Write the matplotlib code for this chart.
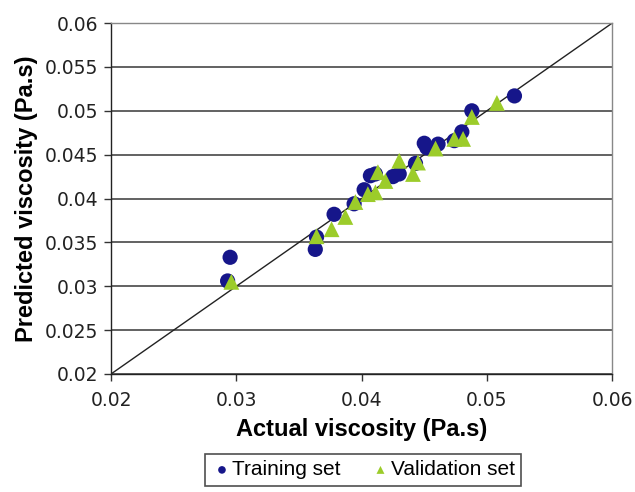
import matplotlib
matplotlib.use("Agg")
import matplotlib.pyplot as plt
from matplotlib.ticker import FixedLocator, FixedFormatter

plt.rcParams['font.family'] = ['Liberation Sans', 'DejaVu Sans']

train_x = [0.0522, 0.0488, 0.0480, 0.0474, 0.0450, 0.0461, 0.0443, 0.0430, 0.0411,
           0.0407, 0.0402, 0.0394, 0.0378, 0.0364, 0.0363, 0.0295, 0.0293, 0.0425, 0.0452]
train_y = [0.0517, 0.0500, 0.0476, 0.0466, 0.0463, 0.0462, 0.0440, 0.0428, 0.0428,
           0.0426, 0.0410, 0.0394, 0.0382, 0.0356, 0.0342, 0.0333, 0.0306, 0.0425, 0.0458]
valid_x = [0.0508, 0.0488, 0.0481, 0.0474, 0.0459, 0.0445, 0.0441, 0.0430, 0.0419,
           0.0413, 0.0411, 0.0405, 0.0395, 0.0387, 0.0376, 0.0364, 0.0296]
valid_y = [0.0509, 0.0493, 0.0468, 0.0468, 0.0457, 0.0441, 0.0428, 0.0443, 0.0420,
           0.0430, 0.0407, 0.0405, 0.0396, 0.0379, 0.0365, 0.0357, 0.0305]

x_ticks = [0.02, 0.03, 0.04, 0.05, 0.06]
x_labels = ["0.02", "0.03", "0.04", "0.05", "0.06"]
y_ticks = [0.02, 0.025, 0.03, 0.035, 0.04, 0.045, 0.05, 0.055, 0.06]
y_labels = ["0.02", "0.025", "0.03", "0.035", "0.04", "0.045", "0.05", "0.055", "0.06"]

fig = plt.figure(figsize=(6.35, 4.92), dpi=100)
ax = fig.add_axes([0.175, 0.240, 0.789, 0.713])

ax.set_xlim(0.02, 0.06)
ax.set_ylim(0.02, 0.06)
ax.yaxis.set_major_locator(FixedLocator(y_ticks))
ax.yaxis.set_major_formatter(FixedFormatter(y_labels))
ax.xaxis.set_major_locator(FixedLocator(x_ticks))
ax.xaxis.set_major_formatter(FixedFormatter(x_labels))
ax.grid(axis='y', color='#555555', linewidth=1.3, zorder=0)
ax.set_axisbelow(True)

ax.plot([0.02, 0.06], [0.02, 0.06], color='#222222', linewidth=1.0, zorder=1)

ax.scatter(train_x, train_y, s=120, marker='o', color='#16168a', zorder=2,
           label='Training set', edgecolors='none')
ax.scatter(valid_x, valid_y, s=130, marker='^', color='#9ccc2a', zorder=3,
           label='Validation set', edgecolors='none')

for side in ['left', 'bottom']:
    ax.spines[side].set_color('#222222')
    ax.spines[side].set_linewidth(1.0)
for side in ['top', 'right']:
    ax.spines[side].set_color('#888888')
    ax.spines[side].set_linewidth(1.0)

ax.tick_params(axis='both', direction='out', length=5, width=1, colors='#333333',
               labelsize=13.5, labelcolor='#222222')
ax.tick_params(axis='x', pad=7)
ax.tick_params(axis='y', pad=4)
for lbl in ax.get_xticklabels() + ax.get_yticklabels():
    lbl.set_family(['DejaVu Sans'])

ax.set_xlabel('Actual viscosity (Pa.s)', fontsize=17, fontweight='bold', labelpad=6)
ax.set_ylabel('Predicted viscosity (Pa.s)', fontsize=17, fontweight='bold', labelpad=5)

leg = fig.legend(loc='upper center', bbox_to_anchor=(0.572, 0.077), ncol=2,
                 fontsize=15, frameon=True, fancybox=False, edgecolor='#222222',
                 handletextpad=0.0, columnspacing=1.4, markerscale=0.5,
                 borderpad=0.3, borderaxespad=0, handlelength=1.0)
leg.get_frame().set_linewidth(1.2)

fig.savefig('out.png', dpi=100)
